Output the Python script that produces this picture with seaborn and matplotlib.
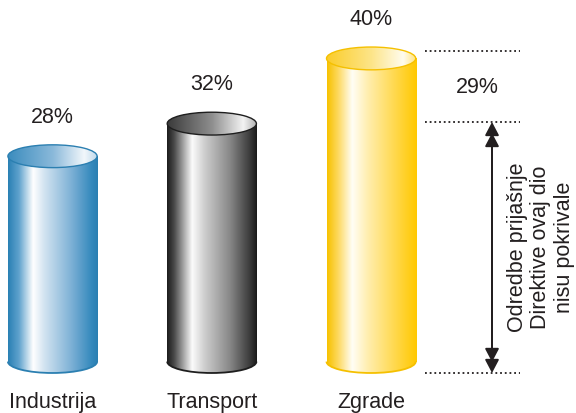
import numpy as np
import seaborn as sns
import matplotlib
matplotlib.use("Agg")
import matplotlib.pyplot as plt
from matplotlib.colors import LinearSegmentedColormap
from matplotlib.patches import Ellipse, Rectangle, Arc

# data
categories = ["Industrija", "Transport", "Zgrade"]
values = [28, 32, 40]
covered_share = 29
guide_levels = [0, 30.8, 39.5]   # dotted guide lines on the right
note = "Odredbe prijašnje\nDirektive ovaj dio\nnisu pokrivale"

# cylinder shading (side, top)
side_stops = {
    "Industrija": [(0, "#2a80b4"), (0.12, "#5fa2cd"), (0.28, "#ffffff"), (0.40, "#d3e4f1"),
                   (0.70, "#7fb2d6"), (0.93, "#3589bd"), (1, "#2a7fb2")],
    "Transport": [(0, "#1c1c1c"), (0.08, "#4a4a4a"), (0.28, "#fbfbfb"), (0.42, "#cdcdcd"),
                  (0.70, "#888888"), (0.92, "#3c3c3c"), (1, "#1a1a1a")],
    "Zgrade": [(0, "#f7c200"), (0.12, "#fdd85c"), (0.28, "#fffef6"), (0.45, "#ffeeb0"),
               (0.75, "#ffd94f"), (1, "#ffc800")],
}
top_stops = {
    "Industrija": [(0, "#3b8cbe"), (0.5, "#8ab9da"), (0.85, "#f2f7fb"), (1, "#bcd8eb")],
    "Transport": [(0, "#3a3a3a"), (0.5, "#8e8e8e"), (0.85, "#f3f3f3"), (1, "#b0b0b0")],
    "Zgrade": [(0, "#fbcd2a"), (0.5, "#fde58a"), (0.85, "#fffcee"), (1, "#ffe27a")],
}
rim_colors = {"Industrija": "#2b7fb1", "Transport": "#1e1e1e", "Zgrade": "#f5c000"}

plt.rcParams["font.family"] = ["Liberation Sans", "DejaVu Sans"]
fig = plt.figure(figsize=(5.76, 4.13), dpi=100)
ax = fig.add_axes([0, 0, 1, 1])

sns.barplot(x=categories, y=values, width=0.56, color="#cccccc", ax=ax)

ell_h = 2.8
grad = np.linspace(0, 1, 256).reshape(1, -1)
text_color = "#231f20"

for name, bar in zip(categories, ax.patches):
    x0 = bar.get_x()
    w = bar.get_width()
    h = bar.get_height()
    cx = x0 + w / 2
    bar.set_visible(False)
    side_cmap = LinearSegmentedColormap.from_list(name + "_side", side_stops[name])
    top_cmap = LinearSegmentedColormap.from_list(name + "_top", top_stops[name])
    y_bot = ell_h / 2
    y_top = h - ell_h / 2

    body = Rectangle((x0, y_bot), w, y_top - y_bot, transform=ax.transData)
    base = Ellipse((cx, y_bot), w, ell_h, transform=ax.transData)
    for clip in (body, base):
        im = ax.imshow(grad, cmap=side_cmap, aspect="auto", interpolation="bilinear",
                       extent=(x0, x0 + w, 0, y_top), zorder=2)
        im.set_clip_path(clip)
    # front half of the bottom rim
    ax.add_patch(Arc((cx, y_bot), w, ell_h, theta1=180, theta2=360,
                     ec=rim_colors[name], lw=1.3, zorder=2.5))
    # top face
    cap = Ellipse((cx, y_top), w, ell_h, transform=ax.transData)
    im = ax.imshow(grad, cmap=top_cmap, aspect="auto", interpolation="bilinear",
                   extent=(x0, x0 + w, y_top - ell_h / 2, y_top + ell_h / 2), zorder=3)
    im.set_clip_path(cap)
    ax.add_patch(Ellipse((cx, y_top), w, ell_h, fill=False, ec=rim_colors[name],
                         lw=1.0, zorder=3.5))

    ax.annotate(f"{int(h)}%", (cx, h), xytext=(0, 16), textcoords="offset points",
                ha="center", va="baseline", fontsize=15.5, color=text_color)
    ax.text(cx, -4.3, name, ha="center", va="baseline", fontsize=15.5, color=text_color)

# guide lines and bracket on the right
for lv in guide_levels:
    ax.plot([2.338, 2.935], [lv, lv], color=text_color, lw=1.3,
            linestyle=(0, (1, 1.6)), zorder=3)

ax.text(2.665, 34.36, f"{covered_share}%", ha="center", va="baseline",
        fontsize=15.5, color=text_color)

arrow_x = 2.759
head = dict(arrowstyle="<|-|>,head_length=0.8,head_width=0.42", color=text_color,
            lw=1.4, shrinkA=0, shrinkB=0, mutation_scale=10)
ax.annotate("", xy=(arrow_x, guide_levels[0]), xytext=(arrow_x, guide_levels[1]),
            arrowprops=head)
ax.annotate("", xy=(arrow_x, guide_levels[0] + 1.35), xytext=(arrow_x, guide_levels[1] - 1.35),
            arrowprops=head)

ax.text(3.066, 15.46, note, rotation=90, ha="center", va="center",
        multialignment="center", linespacing=1.15, fontsize=15.5, color=text_color)

ax.set_xlim(-0.3296, 3.2862)
ax.set_ylim(-4.91, 45.77)
ax.axis("off")

fig.savefig("out.png", dpi=100)
